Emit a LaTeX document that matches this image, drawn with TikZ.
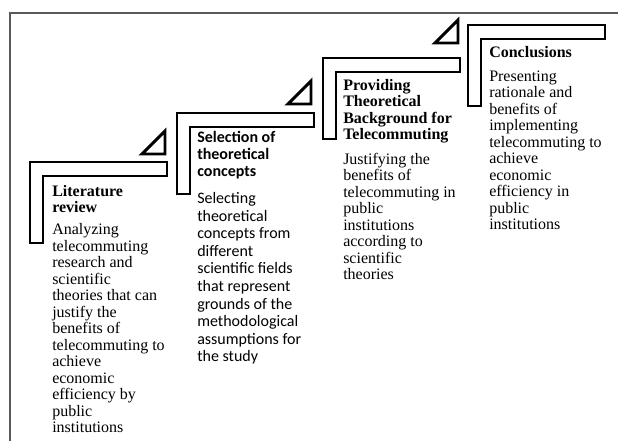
\documentclass[tikz,border=0pt]{standalone}
\usepackage{fontspec}
\setmainfont{Liberation Serif}
\newfontfamily\timesfont{Liberation Serif}
\newfontfamily\calibri{Carlito}
\tikzset{stair/.style={draw=black, line width=2.2pt, line join=miter},
flag/.style={draw=black, line width=2.2pt, line join=miter},
%serif text (Times) and sans text (Calibri), placed by the baseline of the last line
headserif/.style={anchor=base west, inner sep=0pt, align=left, font=\fontsize{12}{12.4}\selectfont\timesfont\bfseries},
textserif/.style={anchor=base west, inner sep=0pt, align=left, font=\fontsize{12}{12.4}\selectfont\timesfont},
headsans/.style={anchor=base west, inner sep=0pt, align=left, font=\fontsize{12}{12.8}\selectfont\calibri\bfseries},
textsans/.style={anchor=base west, inner sep=0pt, align=left, font=\fontsize{12}{13.2}\selectfont\calibri}}

\begin{document}
\begin{tikzpicture}[x=0.75pt, y=-0.75pt]

\useasboundingbox (0,0) rectangle (618,441);

\draw[black!65, line width=0.9pt] (10,441) -- (10,13) -- (618,13);

\coordinate (s1) at (30,162);
\coordinate (s2) at (177,113);
\coordinate (s3) at (323,58);
\coordinate (s4) at (468,25);

\coordinate (f1) at (142,154);
\coordinate (f2) at (288,104);
\coordinate (f3) at (435,43);

\foreach \i in {1,2,3,4}
    \draw[stair] (s\i) -- ++(137,0) -- ++(0,14) -- ++(-124,0) -- ++(0,67) -- ++(-13,0) -- cycle;

\foreach \i in {1,2,3}
    \draw[flag] (f\i) -- ++(23,0) -- ++(0,-23) -- cycle;

\node[headserif] (title1) at (52,213) {Literature\\review};
\node[textserif] (text1) at (52,433) {Analyzing\\telecommuting\\research and\\scientific\\theories that can\\justify the\\benefits of\\telecommuting to\\achieve\\economic\\efficiency by\\public\\institutions};

\node[headsans] (title2) at (197,177) {Selection of\\theoretical\\concepts};
\node[textsans] (text2) at (197,362) {Selecting\\theoretical\\concepts from\\different\\scientific fields\\that represent\\grounds of the\\methodological\\assumptions for\\the study};

\node[headserif] (title3) at (343,140) {Providing\\Theoretical\\Background for\\Telecommuting};
\node[textserif] (text3) at (343,280) {Justifying the\\benefits of\\telecommuting in\\public\\institutions\\according to\\scientific\\theories};

\node[headserif] (title4) at (489,58) {Conclusions};
\node[textserif] (text4) at (489,230) {Presenting\\rationale and\\benefits of\\implementing\\telecommuting to\\achieve\\economic\\efficiency in\\public\\institutions};

\end{tikzpicture}
\end{document}
